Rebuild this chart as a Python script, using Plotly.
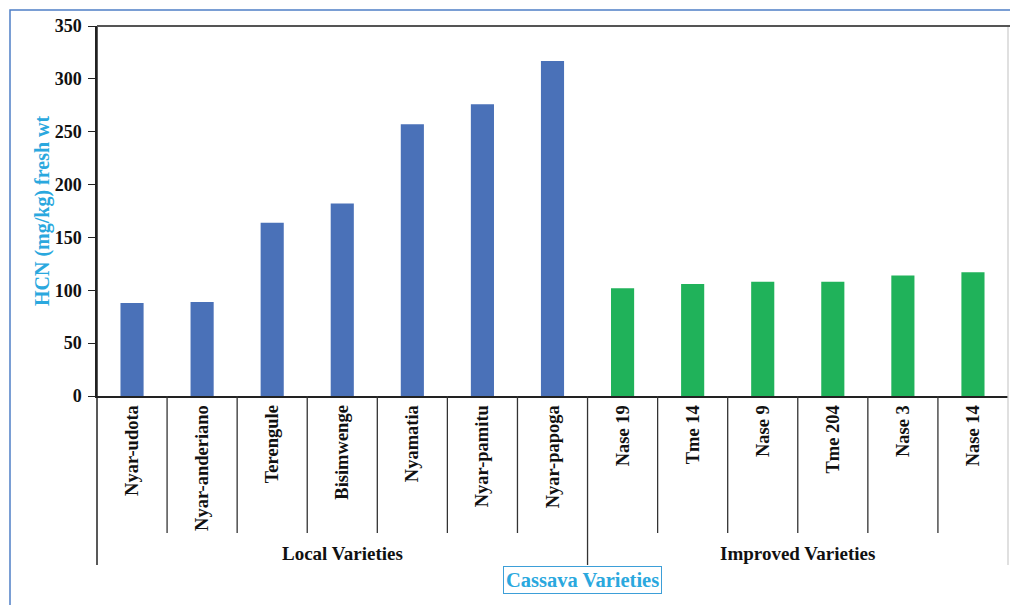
import plotly.graph_objects as go

# HCN content (mg/kg fresh weight) of cassava varieties
local_varieties = ["Nyar-udota", "Nyar-anderiano", "Terengule", "Bisimwenge",
                   "Nyamatia", "Nyar-pamitu", "Nyar-papoga"]
local_hcn = [88, 89, 164, 182, 257, 276, 317]

improved_varieties = ["Nase 19", "Tme 14", "Nase 9", "Tme 204", "Nase 3", "Nase 14"]
improved_hcn = [102, 106, 108, 108, 114, 117]

group_names = ["Local Varieties", "Improved Varieties"]
y_ticks = [0, 50, 100, 150, 200, 250, 300, 350]

categories = local_varieties + improved_varieties
serif = "Liberation Serif"
blue = "#4a71b8"
green = "#20b25a"
title_blue = "#2aa8de"

fig = go.Figure()
fig.add_trace(go.Bar(x=local_varieties, y=local_hcn, marker=dict(color=blue, line=dict(width=0)),
                     width=0.33, showlegend=False))
fig.add_trace(go.Bar(x=improved_varieties, y=improved_hcn, marker=dict(color=green, line=dict(width=0)),
                     width=0.33, showlegend=False))

W, H = 1010, 605
ml, mr, mt, mb = 97, 2, 26, 209
plot_h = H - mt - mb

def py(pix):
    """pixel row -> paper y"""
    return (H - mb - pix) / plot_h

def px(pix):
    return (pix - ml) / (W - ml - mr)

shapes = []
# divider lines between categories
n_local = len(local_varieties)
for i in range(1, len(categories)):
    bottom = py(565) if i == n_local else py(533)
    shapes.append(dict(type="line", xref="x", yref="paper", x0=i - 0.5, x1=i - 0.5,
                       y0=0, y1=bottom, line=dict(color="#333333", width=1.3)))
# outer group dividers
shapes.append(dict(type="line", xref="paper", yref="paper", x0=0, x1=0, y0=1, y1=py(565),
                   line=dict(color="#222222", width=1.5)))
shapes.append(dict(type="line", xref="paper", yref="paper", x0=1, x1=1, y0=1, y1=py(565),
                   line=dict(color="#d0d0d0", width=1.3)))
# top frame line
shapes.append(dict(type="line", xref="paper", yref="paper", x0=0, x1=1.01, y0=1, y1=1,
                   line=dict(color="#555555", width=2)))
# outer blue border
shapes.append(dict(type="rect", xref="paper", yref="paper", x0=px(10), x1=px(1030),
                   y0=py(620), y1=py(10), line=dict(color="#4f7fc6", width=1.5)))

annotations = []
# group labels centred under their categories
groups = [(group_names[0], list(range(0, n_local))),
          (group_names[1], list(range(n_local, len(categories))))]
for name, idx in groups:
    annotations.append(dict(text="<b>%s</b>" % name, x=sum(idx) / len(idx), xref="x",
                            y=py(553), yref="paper", showarrow=False,
                            xanchor="center", yanchor="middle",
                            font=dict(family=serif, size=19, color="#111111")))
# axis titles
annotations.append(dict(text="<b>HCN (mg/kg) fresh wt</b>", x=px(42), xref="paper",
                        y=0.5, yref="paper", textangle=-90, showarrow=False,
                        xanchor="center", yanchor="middle",
                        font=dict(family=serif, size=20, color=title_blue)))
annotations.append(dict(text="<b>Cassava Varieties</b>", x=px(582), xref="paper",
                        y=py(580), yref="paper", showarrow=False,
                        xanchor="center", yanchor="middle",
                        bordercolor="#3d9fd8", borderwidth=1, borderpad=2, bgcolor="white",
                        font=dict(family=serif, size=20.5, color=title_blue)))

fig.update_layout(
    width=W, height=H,
    margin=dict(l=ml, r=mr, t=mt, b=mb, autoexpand=False),
    paper_bgcolor="white", plot_bgcolor="white",
    bargap=0.67,
    shapes=shapes, annotations=annotations,
    xaxis=dict(type="category", categoryorder="array", categoryarray=categories,
               range=[-0.5, len(categories) - 0.5], showgrid=False, zeroline=False,
               showline=True, linecolor="#222222", linewidth=1.5, ticks="",
               tickangle=-90,
               tickfont=dict(family=serif, size=18.5, color="#111111", weight="bold")),
    yaxis=dict(range=[0, 350], tickvals=y_ticks, showgrid=False, zeroline=False,
               showline=True, linecolor="#222222", linewidth=1.5,
               ticks="outside", ticklen=7, tickcolor="#222222", tickwidth=1.3,
               ticklabelstandoff=3,
               tickfont=dict(family=serif, size=18, color="#111111", weight="bold")),
)

fig.write_html("out.html")
